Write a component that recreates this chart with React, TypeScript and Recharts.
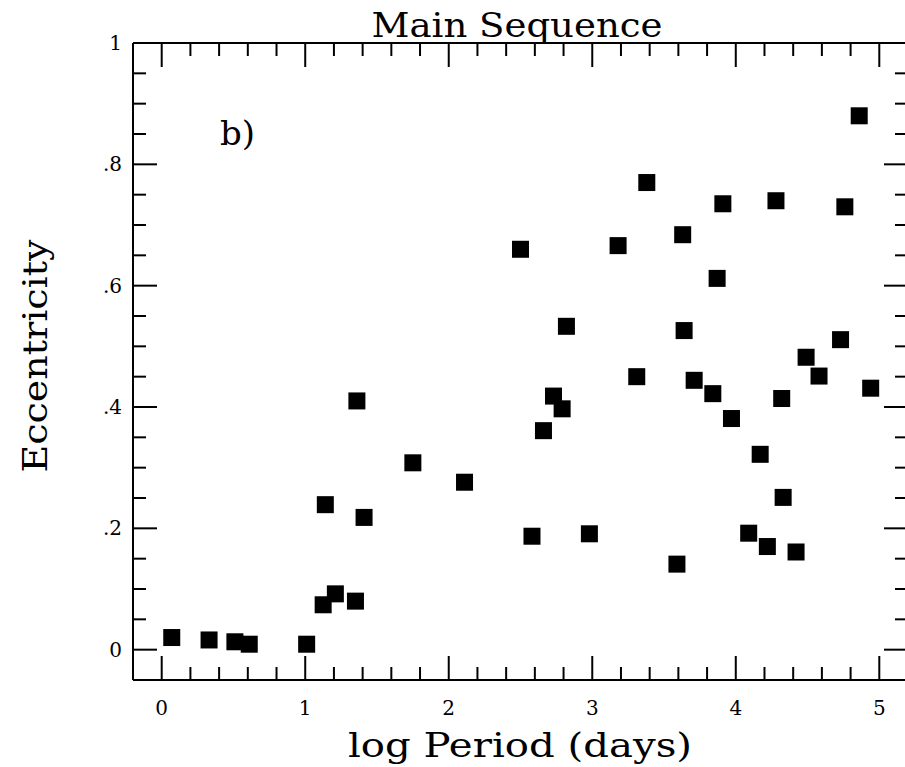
import React from 'react';
import { ScatterChart, Scatter, XAxis, YAxis } from 'recharts';

// log period (days) and eccentricity
const logPeriod = [
  0.07, 0.33, 0.51, 0.61, 1.01, 1.125, 1.21, 1.35, 1.36, 1.75, 2.11, 1.14, 1.41,
  2.5, 2.58, 2.66, 2.73, 2.79, 2.82, 2.98, 3.18, 3.31, 3.38, 3.59, 3.63, 3.64,
  3.71, 3.84, 3.87, 3.91, 3.97, 4.09, 4.17, 4.22, 4.28, 4.32, 4.33, 4.42, 4.49,
  4.58, 4.73, 4.76, 4.86, 4.94,
];
const eccentricity = [
  0.02, 0.016, 0.013, 0.009, 0.009, 0.074, 0.092, 0.08, 0.41, 0.308, 0.276, 0.239, 0.218,
  0.66, 0.187, 0.361, 0.418, 0.397, 0.533, 0.191, 0.666, 0.45, 0.77, 0.141, 0.684, 0.526,
  0.444, 0.422, 0.612, 0.735, 0.381, 0.192, 0.322, 0.17, 0.74, 0.414, 0.251, 0.161, 0.482,
  0.451, 0.511, 0.73, 0.88, 0.431,
];

const xTicks = [0, 0.2, 0.4, 0.6, 0.8, 1, 1.2, 1.4, 1.6, 1.8, 2, 2.2, 2.4, 2.6, 2.8, 3, 3.2, 3.4, 3.6, 3.8, 4, 4.2, 4.4, 4.6, 4.8, 5];
const xMajor = [0, 1, 2, 3, 4, 5];
const xLabels = ['0', '1', '2', '3', '4', '5'];
const yTicks = [0, 0.05, 0.1, 0.15, 0.2, 0.25, 0.3, 0.35, 0.4, 0.45, 0.5, 0.55, 0.6, 0.65, 0.7, 0.75, 0.8, 0.85, 0.9, 0.95, 1];
const yMajor = [0, 0.2, 0.4, 0.6, 0.8, 1];
const yLabels = ['0', '.2', '.4', '.6', '.8', '1'];

const data = logPeriod.map((x, i) => ({ x, y: eccentricity[i] }));

const FONT = '"DejaVu Serif", serif';
const MAJOR = 24;
const MINOR = 13;

const majorIndex = (v: number, list: number[]) => list.findIndex(m => Math.abs(m - v) < 1e-6);

const BottomTick = (p: any) => {
  const i = majorIndex(p.payload.value, xMajor);
  return (
    <g>
      <line x1={p.x} y1={p.y} x2={p.x} y2={p.y - (i >= 0 ? MAJOR : MINOR)} stroke="#000" strokeWidth={2} />
      {i >= 0 && (
        <text x={p.x} y={p.y + 35} textAnchor="middle" fontFamily={FONT} fontSize={20} fill="#000">{xLabels[i]}</text>
      )}
    </g>
  );
};

const TopTick = (p: any) => {
  const i = majorIndex(p.payload.value, xMajor);
  return <line x1={p.x} y1={p.y} x2={p.x} y2={p.y + (i >= 0 ? MAJOR : MINOR)} stroke="#000" strokeWidth={2} />;
};

const LeftTick = (p: any) => {
  const i = majorIndex(p.payload.value, yMajor);
  return (
    <g>
      <line x1={p.x} y1={p.y} x2={p.x + (i >= 0 ? MAJOR : MINOR)} y2={p.y} stroke="#000" strokeWidth={2} />
      {i >= 0 && (
        <text x={p.x - 11} y={p.y + 7} textAnchor="end" fontFamily={FONT} fontSize={20} fill="#000">{yLabels[i]}</text>
      )}
    </g>
  );
};

const RightTick = (p: any) => {
  const i = majorIndex(p.payload.value, yMajor);
  return <line x1={p.x} y1={p.y} x2={p.x - (i >= 0 ? MAJOR : MINOR)} y2={p.y} stroke="#000" strokeWidth={2} />;
};

const Square = (p: any) => <rect x={p.cx - 8.5} y={p.cy - 8.5} width={17} height={17} fill="#000" />;

const axisLine = { stroke: '#000', strokeWidth: 2 };

export default function App() {
  return (
    <div style={{ position: 'absolute', left: 0, top: 0, width: 905, height: 767, overflow: 'hidden', background: '#fff' }}>
      <ScatterChart width={910} height={767} margin={{ top: 0, right: 0, bottom: 0, left: 0 }}>
        <XAxis xAxisId="b" type="number" dataKey="x" domain={[-0.2, 5.2]} allowDataOverflow ticks={xTicks} interval={0}
          orientation="bottom" height={87} tickSize={0} tickMargin={0} tickLine={false} axisLine={axisLine} tick={<BottomTick />} />
        <XAxis xAxisId="t" type="number" dataKey="x" domain={[-0.2, 5.2]} allowDataOverflow ticks={xTicks} interval={0}
          orientation="top" height={43} tickSize={0} tickMargin={0} tickLine={false} axisLine={axisLine} tick={<TopTick />} />
        <YAxis yAxisId="l" type="number" dataKey="y" domain={[-0.05, 1]} allowDataOverflow ticks={yTicks} interval={0}
          orientation="left" width={133} tickSize={0} tickMargin={0} tickLine={false} axisLine={axisLine} tick={<LeftTick />} />
        <YAxis yAxisId="r" type="number" dataKey="y" domain={[-0.05, 1]} allowDataOverflow ticks={yTicks} interval={0}
          orientation="right" width={2} tickSize={0} tickMargin={0} tickLine={false} axisLine={axisLine} tick={<RightTick />} />
        <Scatter data={data} xAxisId="b" yAxisId="l" shape={<Square />} isAnimationActive={false} />
        <text x={517} y={37} textAnchor="middle" fontFamily={FONT} fontSize={33} textLength={291} lengthAdjust="spacingAndGlyphs" fill="#000">Main Sequence</text>
        <text x={520} y={757} textAnchor="middle" fontFamily={FONT} fontSize={33} textLength={344} lengthAdjust="spacingAndGlyphs" fill="#000">log Period (days)</text>
        <text x={47} y={356} transform="rotate(-90 47 356)" textAnchor="middle" fontFamily={FONT} fontSize={34} textLength={233} lengthAdjust="spacingAndGlyphs" fill="#000">Eccentricity</text>
        <text x={220} y={145} fontFamily={FONT} fontSize={34} fill="#000">b)</text>
      </ScatterChart>
    </div>
  );
}
